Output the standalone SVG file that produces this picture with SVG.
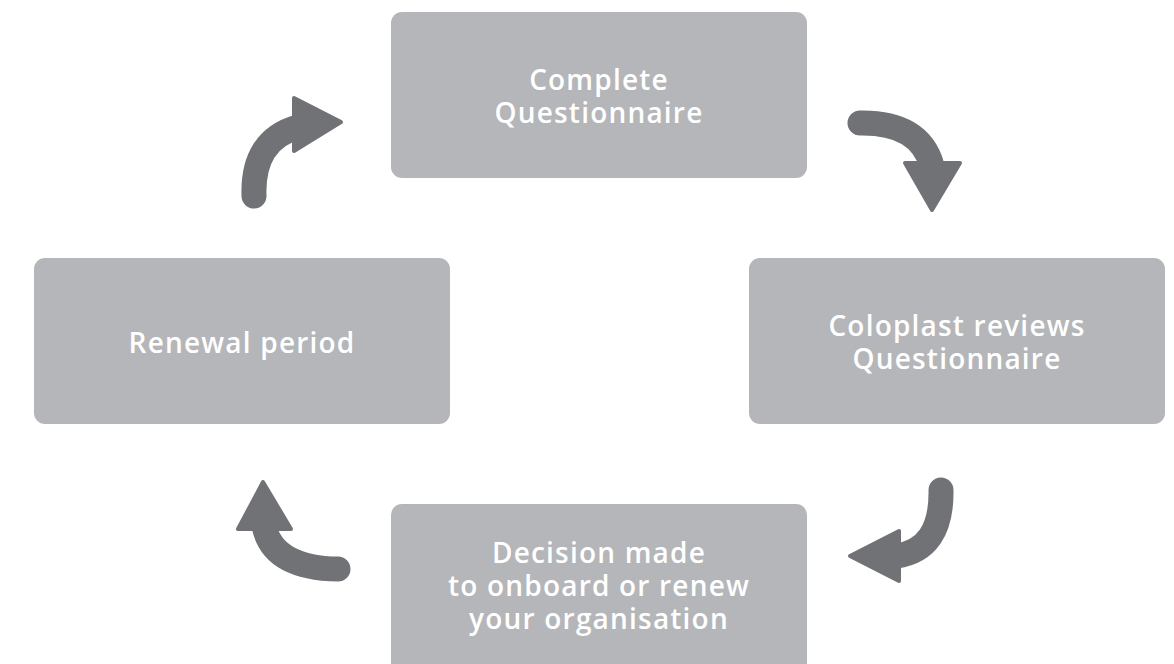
<svg xmlns="http://www.w3.org/2000/svg" width="1174" height="664" viewBox="0 0 1174 664">
<style>
.box{fill:#b5b6b9}
.t{font-family:"Open Sans","Liberation Sans",sans-serif;font-weight:600;font-size:28px;letter-spacing:1.2px;fill:#ffffff;text-anchor:middle}
.arc{fill:none;stroke:#717275;stroke-width:25;stroke-linecap:round}
.head{fill:#717275;stroke:#717275;stroke-width:4;stroke-linejoin:round}
</style>
<rect width="1174" height="664" fill="#ffffff"/>
<g id="node-complete">
<rect class="box" x="391" y="12" width="416" height="166" rx="11"/>
<text class="t" x="599" y="90">Complete</text>
<text class="t" x="599" y="123">Questionnaire</text>
</g>
<g id="node-review">
<rect class="box" x="749" y="258" width="416" height="166" rx="11"/>
<text class="t" x="957" y="336">Coloplast reviews</text>
<text class="t" x="957" y="369">Questionnaire</text>
</g>
<g id="node-decision">
<rect class="box" x="391" y="504" width="416" height="170" rx="11"/>
<text class="t" x="599" y="563">Decision made</text>
<text class="t" x="599" y="596">to onboard or renew</text>
<text class="t" x="599" y="629">your organisation</text>
</g>
<g id="node-renewal">
<rect class="box" x="34" y="258" width="416" height="166" rx="11"/>
<text class="t" x="242" y="353">Renewal period</text>
</g>
<g id="connectors">
<path class="arc" d="M254,196 Q252,140 298,127"/>
<polygon class="head" points="294,98 341,122 294,151"/>
<path class="arc" d="M860,123 Q920,122 932,166"/>
<polygon class="head" points="905,163 960,163 932,210"/>
<path class="arc" d="M941,490 Q942,550 896,556"/>
<polygon class="head" points="899,531 899,581 850,556"/>
<path class="arc" d="M338,569 Q273,568 264,526"/>
<polygon class="head" points="263,482 238,529 291,529"/>
</g>
</svg>
